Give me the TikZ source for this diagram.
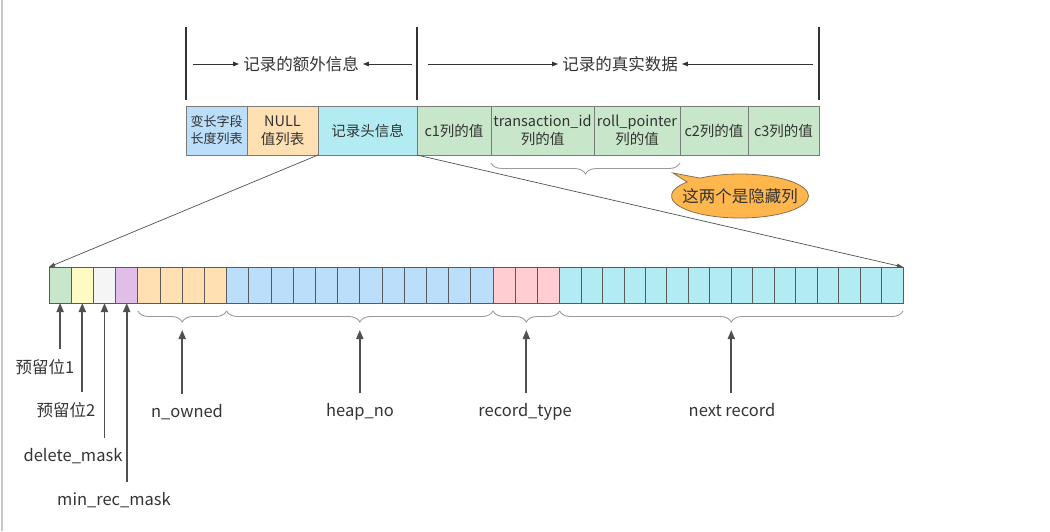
\documentclass[tikz,border=0pt]{standalone}
\usepackage{fontspec}
\setmainfont{Noto Sans CJK SC}
\usetikzlibrary{positioning,arrows.meta,decorations.pathreplacing,shapes.callouts}
\definecolor{txt}{HTML}{333333}
\definecolor{cellline}{HTML}{7A7A7A}
\definecolor{bitline}{HTML}{5A5A5A}
\definecolor{brcline}{HTML}{9A9A9A}
\definecolor{arrline}{HTML}{505050}
\definecolor{cblue}{HTML}{BBDEFB}
\definecolor{corange}{HTML}{FFE0B2}
\definecolor{ccyan}{HTML}{B2EBF2}
\definecolor{cgreen}{HTML}{C8E6C9}
\definecolor{cyellow}{HTML}{FFF9C4}
\definecolor{cgray}{HTML}{F5F5F5}
\definecolor{cpurple}{HTML}{E1BEE7}
\definecolor{cpink}{HTML}{FFCDD2}
\definecolor{ccall}{HTML}{FFB74D}
\definecolor{callline}{HTML}{8A7050}
\newcommand\bitcol[1]{\ifcase#1\or cgreen\or cyellow\or cgray\or cpurple\or corange\or corange\or corange\or corange\else
  \ifnum#1<21 cblue\else\ifnum#1<24 cpink\else ccyan\fi\fi\fi}
\tikzset{
  hcell/.style={draw=cellline, line width=1pt, minimum height=49, inner sep=1pt, outer sep=0pt,
    align=center, text=txt, font=\fontsize{14.5}{18}\selectfont},
  bit/.style={draw=bitline, line width=0.9pt, minimum height=36, inner sep=0pt, outer sep=0pt},
  lbl/.style={text=txt, inner sep=3pt, font=\fontsize{16.5}{20}\selectfont},
  harr/.style={draw=txt, line width=0.9pt, -{Triangle[length=6pt,width=4.5pt]}},
  zarr/.style={draw=arrline, line width=0.7pt, -{Triangle[length=6pt,width=4pt]}},
  uarr/.style={draw=arrline, line width=1.8pt, shorten <=7pt, -{Triangle[length=9pt,width=7pt]}},
  brc/.style={draw=brcline, line width=0.9pt, decorate, decoration={brace,mirror,amplitude=11pt}},
}
\begin{document}
\begin{tikzpicture}[x=1pt,y=-1pt]
\useasboundingbox (0,0) rectangle (1050,531);
\draw[black!22, line width=1.5pt] (2,0) -- (2,531);

\coordinate (m1) at (186,27);
\coordinate (m2) at (417,27);
\coordinate (m3) at (819,27);
\foreach \m in {m1,m2,m3}
  \draw[txt, line width=1.4pt] (\m) -- ++(0,73);
\node[lbl, inner sep=4pt] (extra) at (301,64) {记录的额外信息};
\node[lbl, inner sep=4pt] (real) at (620,64) {记录的真实数据};
\draw[harr, shorten <=7pt] (m1 |- extra) -- (extra);
\draw[harr, shorten <=5pt] (m2 |- extra) -- (extra);
\draw[harr, shorten <=11pt] (m2 |- real) -- (real);
\draw[harr, shorten <=6pt] (m3 |- real) -- (real);

\node[hcell, fill=cblue, minimum width=61, anchor=north west, font=\fontsize{13}{17}\selectfont] (h1) at (186,106) {变长字段\\长度列表};
\node[hcell, fill=corange, minimum width=71, right=0pt of h1] (h2) {NULL\\值列表};
\node[hcell, fill=ccyan, minimum width=99, right=0pt of h2] (h3) {记录头信息};
\node[hcell, fill=cgreen, minimum width=74, right=0pt of h3] (h4) {c1列的值};
\node[hcell, fill=cgreen, minimum width=103, right=0pt of h4] (h5) {transaction\_id\\列的值};
\node[hcell, fill=cgreen, minimum width=86, right=0pt of h5] (h6) {roll\_pointer\\列的值};
\node[hcell, fill=cgreen, minimum width=68, right=0pt of h6] (h7) {c2列的值};
\node[hcell, fill=cgreen, minimum width=71, right=0pt of h7] (h8) {c3列的值};

\draw[brc] ([yshift=-8pt]h5.south west) -- ([yshift=-8pt]h6.south east);
\node[ellipse callout, draw=callline, line width=0.8pt, fill=ccall, minimum width=137, minimum height=44,
  callout absolute pointer={(673,173)},
  label={[lbl]center:这两个是隐藏列}] (hid) at (740,196) {};

\foreach \i in {1,...,39}{
  \edef\bc{\bitcol{\i}}
  \pgfmathsetmacro\bx{\i<24 ? 49+22.2*(\i-1) : 559.6+21.46*(\i-24)}
  \pgfmathsetmacro\bw{\i<24 ? 22.2 : 21.46}
  \node[bit, fill=\bc, minimum width=\bw, anchor=north west] (b\i) at (\bx,267) {};
}

\draw[zarr] (h3.south west) -- (b1.north west);
\draw[zarr] (h3.south east) -- (b39.north east);

\draw[brc] ([yshift=-8pt]b5.south west) -- ([yshift=-8pt]b8.south east) coordinate[midway] (k1);
\draw[brc] ([yshift=-8pt]b9.south west) -- ([yshift=-8pt]b20.south east) coordinate[midway] (k2);
\draw[brc] ([yshift=-8pt]b21.south west) -- ([yshift=-8pt]b23.south east) coordinate[midway] (k3);
\draw[brc] ([yshift=-8pt]b24.south west) -- ([yshift=-8pt]b39.south east) coordinate[midway] (k4);

\node[lbl] (r1) at (45,367) {预留位1};
\node[lbl] (r2) at (66,410) {预留位2};
\node[lbl] (dm) at (73,456) {delete\_mask};
\node[lbl] (mr) at (114,500) {min\_rec\_mask};
\node[lbl] (no) at (187,412) {n\_owned};
\node[lbl] (hn) at (360,412) {heap\_no};
\node[lbl] (rt) at (525,412) {record\_type};
\node[lbl] (nr) at (732,410) {next record};

\draw[uarr] (b1.south |- r1.north) -- (b1.south);
\draw[uarr] (b2.south |- r2.north) -- (b2.south);
\draw[uarr] (b3.south |- dm.north) -- (b3.south);
\draw[uarr] (b4.south |- mr.north) -- (b4.south);
\draw[uarr] (k1 |- no.north) -- ([yshift=-19pt]k1);
\draw[uarr] (k2 |- hn.north) -- ([yshift=-19pt]k2);
\draw[uarr] (k3 |- rt.north) -- ([yshift=-19pt]k3);
\draw[uarr] (k4 |- nr.north) -- ([yshift=-19pt]k4);
\end{tikzpicture}
\end{document}
